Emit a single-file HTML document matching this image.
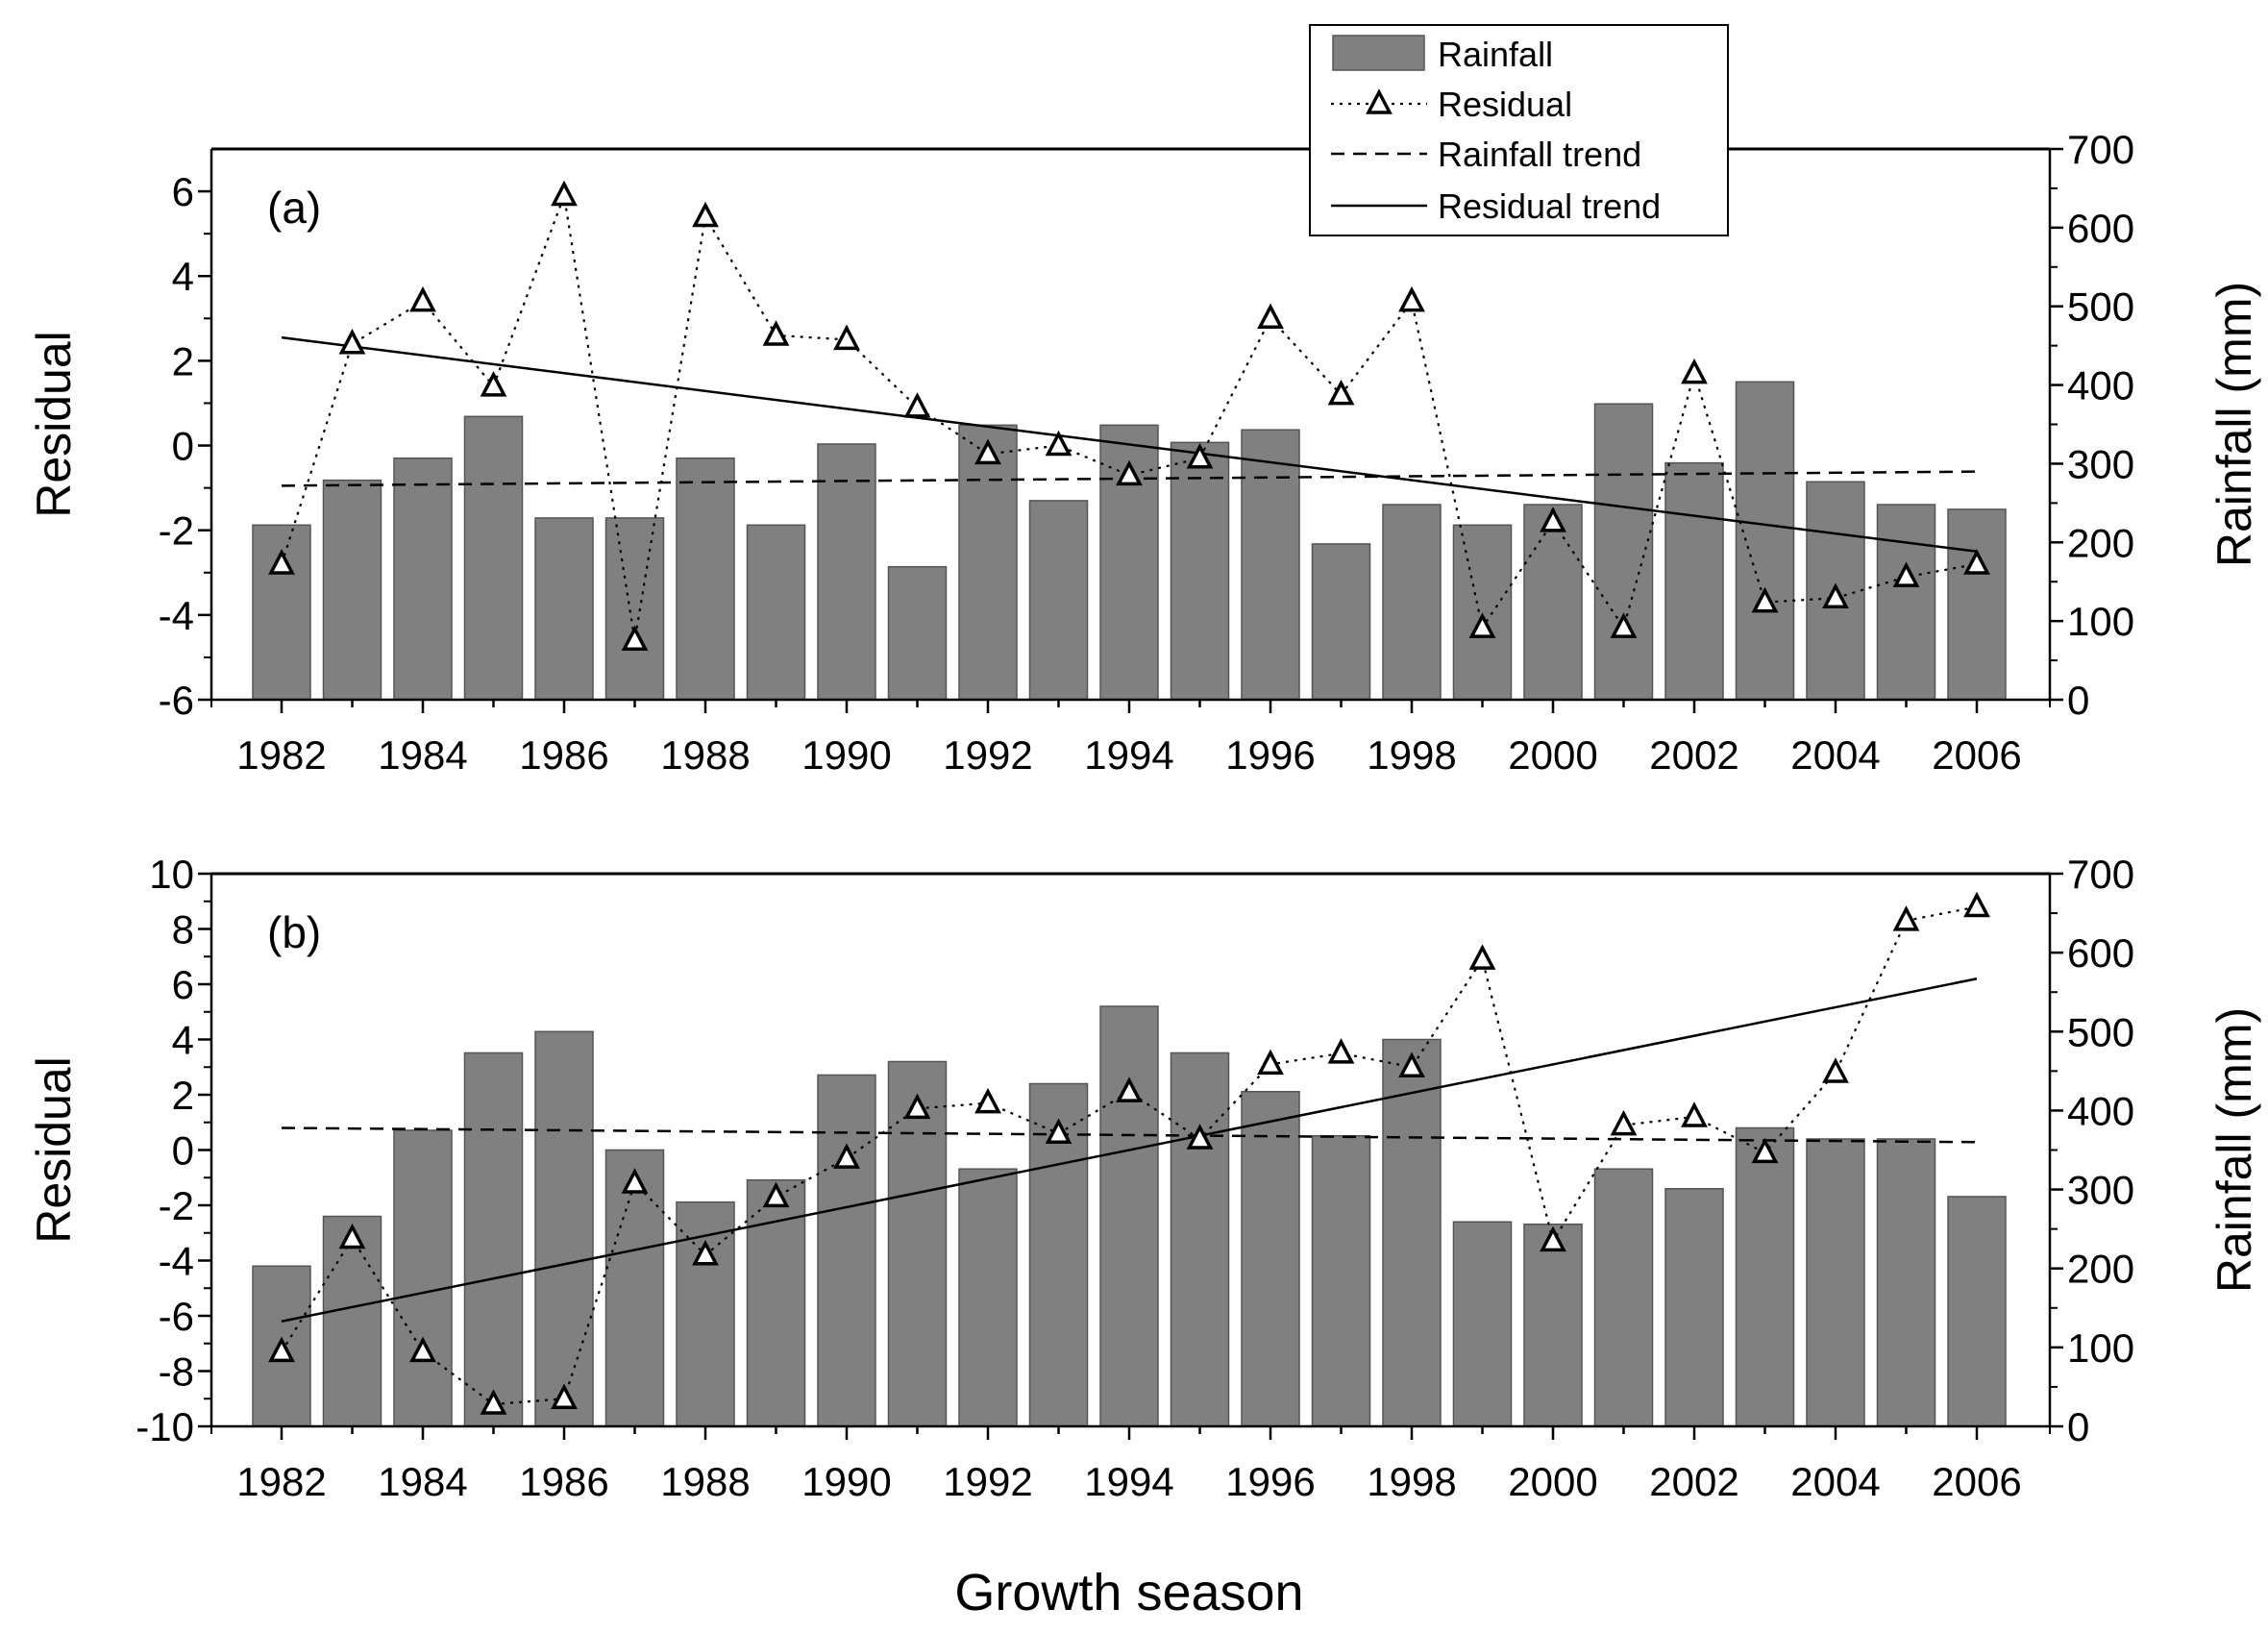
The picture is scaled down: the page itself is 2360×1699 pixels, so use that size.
<!DOCTYPE html>
<html><head><meta charset="utf-8"><style>
body{margin:0;background:#fff}
svg{display:block;font-family:"Liberation Sans",Arial,sans-serif}
</style></head><body>
<svg id="chart" width="2360" height="1699" viewBox="0 0 2360 1699" xmlns="http://www.w3.org/2000/svg"></svg>
<script>
const years = [1982,1983,1984,1985,1986,1987,1988,1989,1990,1991,1992,1993,1994,1995,1996,1997,1998,1999,2000,2001,2002,2003,2004,2005,2006];
const rainA = [222,279,307,360,231,231,307,222,325,169,349,253,349,327,343,198,248,222,248,376,301,404,277,248,242];
const residA = [-2.8,2.4,3.4,1.4,5.9,-4.6,5.4,2.6,2.5,0.9,-0.2,0.0,-0.7,-0.3,3.0,1.2,3.4,-4.3,-1.8,-4.3,1.7,-3.7,-3.6,-3.1,-2.8];
const rainTrendA = [272,290];
const residTrendA = [2.55,-2.5];
const rainB = [203,266,375,473,500,350,284,312,445,462,326,434,532,473,424,368,490,259,256,326,301,378,364,364,291];
const residB = [-7.3,-3.2,-7.3,-9.2,-9.0,-1.2,-3.8,-1.7,-0.3,1.5,1.7,0.6,2.1,0.4,3.1,3.5,3.0,6.9,-3.3,0.9,1.2,-0.1,2.8,8.3,8.8];
const rainTrendB = [378,360];
const residTrendB = [-6.2,6.2];
const leftTicksA = [-6,-4,-2,0,2,4,6];
const leftTicksB = [-10,-8,-6,-4,-2,0,2,4,6,8,10];
const rightTicks = [0,100,200,300,400,500,600,700];
const xTickYears = [1982,1984,1986,1988,1990,1992,1994,1996,1998,2000,2002,2004,2006];

const NS="http://www.w3.org/2000/svg";
const svg=document.getElementById('chart');
function el(tag,attrs,parent){const e=document.createElementNS(NS,tag);for(const k in attrs)e.setAttribute(k,attrs[k]);(parent||svg).appendChild(e);return e;}
const L=220,R=2133;
function xs(y){return 293+(y-1982)*73.5;}

function panel(id,top,bot,lmin,lmax,leftTicks,rain,resid,rTrend,resTrend,label){
  const g=el('g',{});
  
  
  const yl=v=>bot-(v-lmin)/(lmax-lmin)*(bot-top);
  const yr=v=>bot-v/700*(bot-top);
  // bars
  rain.forEach((v,i)=>{
    const b=el('rect',{x:xs(years[i])-30,y:yr(v),width:60,height:bot-yr(v),fill:'#808080',stroke:'#555','stroke-width':1.5},g);
    
    
  });
  // rainfall trend
  const rt=el('line',{x1:xs(1982),y1:yr(rTrend[0]),x2:xs(2006),y2:yr(rTrend[1]),stroke:'#000','stroke-width':2.5,'stroke-dasharray':'14,9'},g);
  
  
  // residual trend
  const st=el('line',{x1:xs(1982),y1:yl(resTrend[0]),x2:xs(2006),y2:yl(resTrend[1]),stroke:'#000','stroke-width':2.5},g);
  
  
  // residual dotted line
  const pts=resid.map((v,i)=>xs(years[i])+','+yl(v)).join(' ');
  const pl=el('polyline',{points:pts,fill:'none',stroke:'#000','stroke-width':2.2,'stroke-dasharray':'3,6'},g);
  
  
  resid.forEach((v,i)=>{
    const cx=xs(years[i]),cy=yl(v);
    const t=el('polygon',{points:`${cx},${cy-12} ${cx-11},${cy+9} ${cx+11},${cy+9}`,fill:'#fff',stroke:'#000','stroke-width':3.5},g);
    
    
  });
  // frame
  el('line',{x1:L,y1:top,x2:R,y2:top,stroke:'#000','stroke-width':3},g);
  el('line',{x1:L,y1:top,x2:L,y2:bot,stroke:'#000','stroke-width':2.5},g);
  el('line',{x1:R,y1:top,x2:R,y2:bot,stroke:'#000','stroke-width':2.5},g);
  el('line',{x1:L,y1:bot,x2:R,y2:bot,stroke:'#000','stroke-width':2.5},g);
  // left ticks
  leftTicks.forEach(v=>{
    const y=yl(v);
    el('line',{x1:L-14,y1:y,x2:L,y2:y,stroke:'#000','stroke-width':2.5},g);
    const t=el('text',{x:L-18,y:y+15,'font-size':42,'text-anchor':'end'},g);t.textContent=v;
    
    
  });
  for(let v=lmin+1;v<lmax;v+=2){const y=yl(v);el('line',{x1:L-8,y1:y,x2:L,y2:y,stroke:'#000','stroke-width':2},g);}
  rightTicks.forEach(v=>{
    const y=yr(v);
    el('line',{x1:R,y1:y,x2:R+14,y2:y,stroke:'#000','stroke-width':2.5},g);
    const t=el('text',{x:R+18,y:y+15,'font-size':42},g);t.textContent=v;
    
    
    if(v<700){const y2=yr(v+50);el('line',{x1:R,y1:y2,x2:R+8,y2:y2,stroke:'#000','stroke-width':2},g);}
  });
  years.forEach(yv=>{
    const major=xTickYears.includes(yv);
    el('line',{x1:xs(yv),y1:bot,x2:xs(yv),y2:bot+(major?14:8),stroke:'#000','stroke-width':2.5},g);
  });
  el('line',{x1:L,y1:bot,x2:L,y2:bot+8,stroke:'#000','stroke-width':2},g);
  el('line',{x1:R,y1:bot,x2:R,y2:bot+8,stroke:'#000','stroke-width':2},g);
  xTickYears.forEach(yv=>{
    const t=el('text',{x:xs(yv),y:bot+72,'font-size':42,'text-anchor':'middle'},g);t.textContent=yv;
    
    
  });
  const pl2=el('text',{x:278,y:top+77,'font-size':46},g);pl2.textContent=label;
  
  
  const ly=(top+bot)/2;
  const lt=el('text',{x:0,y:0,'font-size':50,'text-anchor':'middle',transform:`translate(73,${ly}) rotate(-90)`},g);lt.textContent='Residual';
  
  
  const rtt=el('text',{x:0,y:0,'font-size':50,'text-anchor':'middle',transform:`translate(2342,${ly}) rotate(-90)`},g);rtt.textContent='Rainfall (mm)';
  
  
}
panel('a',155,728,-6,7,leftTicksA,rainA,residA,rainTrendA,residTrendA,'(a)');
panel('b',909,1484,-10,10,leftTicksB,rainB,residB,rainTrendB,residTrendB,'(b)');

const xt=el('text',{x:1175,y:1675,'font-size':54,'text-anchor':'middle'});xt.textContent='Growth season';



// legend
const lg=el('g',{});


el('rect',{x:1363,y:26,width:435,height:219,fill:'#fff',stroke:'#000','stroke-width':2},lg);
el('rect',{x:1387,y:37,width:95,height:36,fill:'#808080',stroke:'#555','stroke-width':1.5},lg);
el('line',{x1:1385,y1:108,x2:1485,y2:108,stroke:'#000','stroke-width':2.2,'stroke-dasharray':'3,6'},lg);
el('polygon',{points:'1435,96 1424,117 1446,117',fill:'#fff',stroke:'#000','stroke-width':3.5},lg);
el('line',{x1:1385,y1:160,x2:1485,y2:160,stroke:'#000','stroke-width':2.5,'stroke-dasharray':'14,9'},lg);
el('line',{x1:1385,y1:214,x2:1485,y2:214,stroke:'#000','stroke-width':2.5},lg);
[['Rainfall',56],['Residual',108],['Rainfall trend',160],['Residual trend',214]].forEach(([s,y])=>{
  const t=el('text',{x:1496,y:y+13,'font-size':36},lg);t.textContent=s;
  
  
});
</script>
</body></html>
